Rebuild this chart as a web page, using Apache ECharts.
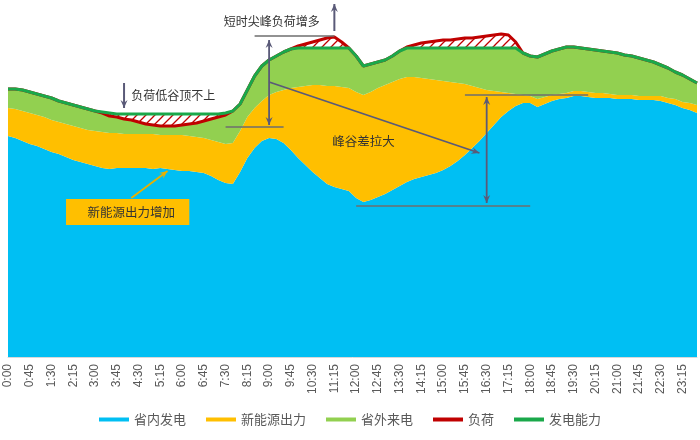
<!DOCTYPE html>
<html><head><meta charset="utf-8">
<script src="https://cdn.jsdelivr.net/npm/echarts@6/dist/echarts.min.js"></script>
<style>html,body{margin:0;padding:0;background:#fff}#c{width:700px;height:440px}</style>
</head><body><div id="c"></div>
<script>
const times = ["0:00","0:15","0:30","0:45","1:00","1:15","1:30","1:45","2:00","2:15","2:30","2:45",
"3:00","3:15","3:30","3:45","4:00","4:15","4:30","4:45","5:00","5:15","5:30","5:45",
"6:00","6:15","6:30","6:45","7:00","7:15","7:30","7:45","8:00","8:15","8:30","8:45",
"9:00","9:15","9:30","9:45","10:00","10:15","10:30","10:45","11:00","11:15","11:30","11:45",
"12:00","12:15","12:30","12:45","13:00","13:15","13:30","13:45","14:00","14:15","14:30","14:45",
"15:00","15:15","15:30","15:45","16:00","16:15","16:30","16:45","17:00","17:15","17:30","17:45",
"18:00","18:15","18:30","18:45","19:00","19:15","19:30","19:45","20:00","20:15","20:30","20:45",
"21:00","21:15","21:30","21:45","22:00","22:15","22:30","22:45","23:00","23:15","23:30","23:45"];

// 省内发电
const provincial = [221,219,216,213,211,208,205,203,200,197,
195,193,191,189,188,189,189,189,189,189,
188,189,188,187,186,186,185,184,181,177,
174,173,185,199,209,216,219,218,214,207,
199,192,185,179,173,170,168,166,159,155,
157,160,163,167,171,175,178,180,182,184,
187,191,196,202,209,216,224,232,240,246,
251,254,254,250,253,256,258,259,261,261,
260,259,259,259,258,258,258,257,257,257,
256,254,252,249,247,244];
// 新能源出力
const renewable = [28,29,30,31,31,32,32,32,33,34,
34,34,35,36,36,35,34,34,34,34,
35,33,34,35,36,35,35,35,36,38,
39,41,41,41,40,40,43,47,53,62,
71,79,87,93,98,101,102,103,106,107,
108,109,109,108,107,105,102,99,96,93,
89,84,78,71,62,53,43,34,25,18,
12,8,7,8,7,6,5,5,5,5,
5,5,5,4,4,4,4,4,4,4,
5,5,6,6,7,8];
// 省外来电
const imported = [19,20,21,21,21,21,22,21,21,21,
21,21,20,19,17,16,15,14,12,10,
9,9,9,9,10,12,14,17,21,25,
29,32,27,27,32,35,35,36,38,39,
39,38,37,37,38,38,39,40,36,29,
28,26,25,26,28,29,29,30,31,32,
33,34,35,36,38,40,42,43,44,45,
46,42,40,42,43,44,45,46,44,43,
43,43,42,42,42,40,39,38,36,34,
31,30,27,27,24,22];
// 负荷
const load = [268,268,267,265,263,261,259,256,254,252,
250,248,246,244,241,240,238,237,235,233,
232,231,231,231,232,233,234,236,238,240,
242,246,253,267,281,291,297,301,305,308,
311,313,315,317,319,320,315,309,301,291,
293,295,297,301,306,310,312,314,315,316,
317,317,318,319,319,320,321,322,323,322,
315,304,301,300,303,306,308,310,310,309,
308,307,306,305,304,302,301,299,297,295,
292,289,285,282,278,274];
// 发电能力
const capacity = [268,268,267,265,263,261,259,256,254,252,
250,248,246,245,244,243,243,243,243,243,
243,243,243,243,243,243,243,243,243,243,
244,246,253,267,281,291,297,301,305,308,
309,309,309,309,309,309,309,309,301,291,
293,295,297,301,306,309,309,309,309,309,
309,309,309,309,309,309,309,309,309,309,
309,304,301,300,303,306,308,310,310,309,
308,307,306,305,304,302,301,299,297,295,
292,289,285,282,278,274];

const names = ['省内发电','新能源出力','省外来电','负荷','发电能力'];
const colors = ['#00BFF3','#FFBF00','#92D050','#C00000','#1AA84A'];

// hatch pattern
const pc = document.createElement('canvas'); pc.width = 9; pc.height = 9;
const g = pc.getContext('2d');
g.strokeStyle = '#C00000'; g.lineWidth = 1.3;
g.beginPath(); g.moveTo(-1,10); g.lineTo(10,-1);
g.moveTo(-2,2); g.lineTo(2,-2); g.moveTo(7,11); g.lineTo(11,7); g.stroke();

const hatchBase = load.map((v,i)=>Math.min(v,capacity[i]));
const hatchGap = load.map((v,i)=>Math.abs(v-capacity[i]));

function areaSeries(name, data, color){
  return {name, type:'line', stack:'total', data, symbol:'none', silent:true,
    color, itemStyle:{color}, lineStyle:{width:0,color}, areaStyle:{color, opacity:1}};
}
const font = '"Noto Sans CJK SC","Noto Sans",sans-serif';
const option = {
  animation:false,
  grid:{left:8,right:3,top:0,bottom:83},
  xAxis:{type:'category',data:times,boundaryGap:false,
    axisLine:{show:true,lineStyle:{color:'#D9D9D9'}},axisTick:{show:false},
    axisLabel:{rotate:90,interval:2,fontSize:12,color:'#595959',margin:7,fontFamily:'"Liberation Sans",sans-serif'}},
  yAxis:{type:'value',min:0,max:357,show:false},
  legend:{data:names.map(n=>({name:n,icon:'rect'})),bottom:9,left:'center',itemWidth:30,itemHeight:4,itemGap:20,
    textStyle:{fontSize:13,color:'#595959',fontFamily:font}},
  series:[
    areaSeries(names[0], provincial, colors[0]),
    areaSeries(names[1], renewable, colors[1]),
    areaSeries(names[2], imported, colors[2]),
    {name:'hb',type:'line',stack:'hatch',data:hatchBase,symbol:'none',silent:true,lineStyle:{width:0}},
    {name:'hg',type:'line',stack:'hatch',data:hatchGap,symbol:'none',silent:true,lineStyle:{width:0},
      areaStyle:{color:{image:pc,repeat:'repeat'},opacity:1}},
    {name:names[3],type:'line',data:load,symbol:'none',color:colors[3],itemStyle:{color:colors[3]},lineStyle:{width:3,color:colors[3]}},
    {name:names[4],type:'line',data:capacity,symbol:'none',color:colors[4],itemStyle:{color:colors[4]},lineStyle:{width:3,color:colors[4]}}
  ]
};
const chart = echarts.init(document.getElementById('c'));
chart.setOption(option);

// annotations anchored in data coordinates [index, value]
const P = (p)=>chart.convertToPixel({gridIndex:0}, p);
const AC = '#5A5A78', LC = '#6E6E6E';
function line(a,b,color,w){return {type:'line',shape:{x1:a[0],y1:a[1],x2:b[0],y2:b[1]},style:{stroke:color,lineWidth:w},z:100};}
function head(p,q,color){
  const dx=q[0]-p[0], dy=q[1]-p[1], L=Math.hypot(dx,dy), ux=dx/L, uy=dy/L;
  const s=8, w=3.5; const bx=q[0]-ux*s, by=q[1]-uy*s;
  return {type:'polygon',shape:{points:[[q[0],q[1]],[bx-uy*w,by+ux*w],[q[0]-ux*s*0.65,q[1]-uy*s*0.65],[bx+uy*w,by-ux*w]]},style:{fill:color},z:101};
}
function arrow(a,b,color,w,both){
  const p=P(a), q=P(b); const out=[line(p,q,color,w),head(p,q,color)];
  if(both) out.push(head(q,p,color));
  return out;
}
function text(pos,t,align,size,color){
  const p=P(pos);
  return {type:'text',x:p[0],y:p[1],z:102,style:{text:t,fill:color||'#333',font:size+'px '+font,align,verticalAlign:'middle',textAlign:align,textVerticalAlign:'middle'}};
}
const box1=P([8.3,158]), box2=P([24.8,132]);
const graphic = [].concat(
  arrow([15.7,274],[15.7,249],AC,2),
  [text([17.2,262],'负荷低谷顶不上','left',12)],
  [text([43.3,336],'短时尖峰负荷增多','right',12)],
  arrow([44.7,326],[44.7,353],AC,2),
  [line(P([34.1,321]),P([44.8,321]),LC,1.3)],
  arrow([35.9,317],[35.9,232],AC,1.8,true),
  [line(P([29.5,230]),P([38.2,230]),LC,1.3)],
  arrow([35.9,275],[65.1,204],AC,1.8),
  [text([49.4,216],'峰谷差拉大','center',12.5)],
  arrow([65.5,260],[65.5,154],AC,1.8,true),
  [line(P([63.0,262]),P([79.9,262]),LC,1.3)],
  [line(P([48.1,151]),P([72.0,151]),LC,1.3)],
  [{type:'rect',shape:{x:box1[0],y:box1[1],width:box2[0]-box1[0],height:box2[1]-box1[1]},style:{fill:'#FFBF00'},z:100}],
  [text([16.6,145],'新能源出力增加','center',12.5)],
  arrow([16.8,159],[21.9,186],'#E8B000',1.8)
);
chart.setOption({graphic});
</script></body></html>
